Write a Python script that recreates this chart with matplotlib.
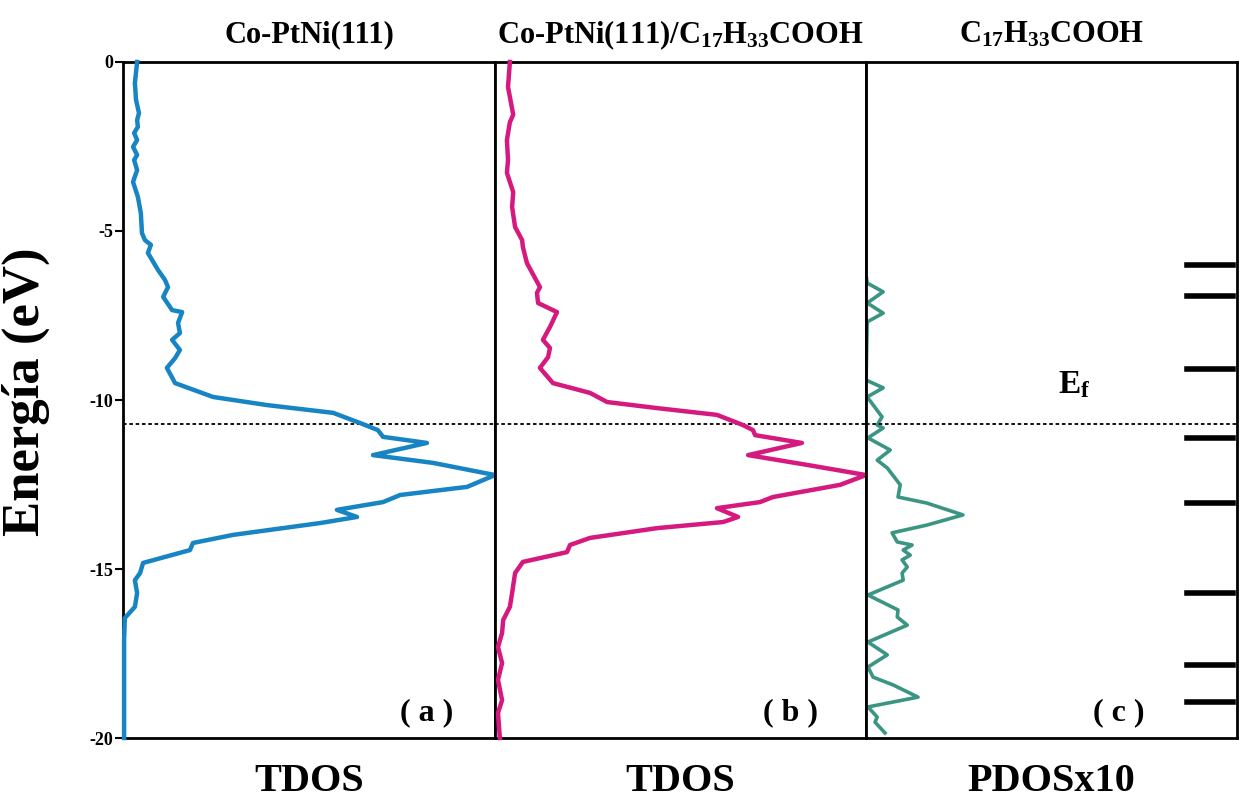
"""
Density of states of Co-PtNi(111), Co-PtNi(111)/C17H33COOH and the
oleic acid molecule, plotted as three side by side panels.
"""

import matplotlib
import matplotlib.pyplot as plt

matplotlib.use("Agg")

plt.rcParams["font.family"] = ["Liberation Serif", "DejaVu Serif"]
plt.rcParams["font.weight"] = "bold"
plt.rcParams["mathtext.fontset"] = "custom"
plt.rcParams["mathtext.rm"] = "Liberation Serif:bold"
plt.rcParams["mathtext.default"] = "rm"

# Fermi level (eV)
e_fermi = -10.71

# (a) TDOS of Co-PtNi(111): energy (eV) and DOS (arbitrary units)
energy_a = [0.0, -0.62, -1.12, -1.51, -1.72, -1.92, -2.10, -2.31, -2.51,
            -2.75, -2.90, -3.20, -3.55, -3.99, -4.47, -5.06, -5.27, -5.41,
            -5.65, -6.15, -6.45, -6.66, -6.95, -7.34, -7.40, -7.72, -8.02,
            -8.22, -8.52, -8.76, -9.05, -9.50, -9.91, -10.15, -10.38,
            -10.68, -10.89, -11.09, -11.27, -11.63, -11.86, -12.22, -12.57,
            -12.81, -13.02, -13.25, -13.46, -13.64, -13.79, -13.99, -14.23,
            -14.44, -14.82, -15.12, -15.33, -15.71, -16.12, -16.45, -17.10,
            -20.0]
tdos_a = [3.8, 3.2, 3.5, 4.3, 3.8, 4.0, 3.0, 3.8, 2.7, 3.8, 3.0, 3.8, 2.7,
          4.0, 4.8, 5.1, 5.9, 7.5, 6.7, 9.4, 11.3, 12.1, 10.8, 13.2, 15.9,
          14.8, 15.3, 13.2, 15.3, 14.0, 11.8, 14.0, 24.2, 38.7, 56.5, 63.7,
          68.5, 69.9, 81.7, 67.2, 83.3, 100.0, 92.5, 74.5, 69.9, 57.5, 62.9,
          53.0, 43.0, 29.6, 18.8, 18.0, 5.4, 4.6, 3.2, 3.8, 3.2, 0.5, 0.3,
          0.3]

# (b) TDOS of Co-PtNi(111)/C17H33COOH
energy_b = [0.0, -0.74, -1.56, -1.78, -2.31, -2.90, -3.28, -3.85, -4.29,
            -4.88, -5.27, -5.47, -5.95, -6.66, -6.83, -7.13, -7.40, -7.84,
            -8.22, -8.46, -8.73, -9.05, -9.50, -9.79, -10.06, -10.24,
            -10.44, -10.74, -10.89, -11.04, -11.27, -11.63, -11.92, -12.22,
            -12.51, -12.87, -13.02, -13.20, -13.46, -13.61, -13.79, -14.08,
            -14.29, -14.50, -14.79, -15.12, -15.71, -16.12, -16.51, -16.89,
            -17.31, -17.78, -18.28, -18.88, -19.26, -20.0]
tdos_b = [4.0, 3.5, 4.9, 4.0, 3.2, 3.5, 3.2, 4.9, 4.6, 5.4, 7.3, 7.5, 8.6,
          12.1, 11.3, 11.6, 16.7, 14.8, 12.9, 14.8, 14.3, 12.1, 15.6, 25.6,
          30.2, 43.7, 59.8, 66.8, 69.5, 70.1, 82.7, 68.2, 84.1, 100.0, 93.0,
          74.9, 71.4, 59.8, 65.5, 61.5, 43.7, 25.6, 20.2, 19.4, 7.5, 5.4,
          4.6, 4.0, 2.2, 1.9, 0.8, 1.9, 0.8, 1.9, 0.8, 1.3]

# (c) PDOS (x10) of C17H33COOH
energy_c = [0.0, -6.30, -6.54, -6.80, -7.13, -7.43, -7.69, -9.41, -9.64,
            -9.91, -10.50, -10.74, -10.83, -11.12, -11.48, -11.78, -12.01,
            -12.51, -12.87, -13.05, -13.40, -13.70, -13.93, -14.20, -14.29,
            -14.44, -14.59, -14.73, -14.94, -15.12, -15.33, -15.77, -16.21,
            -16.42, -16.66, -17.16, -17.54, -17.90, -18.20, -18.43, -18.79,
            -19.08, -19.38, -19.53, -19.85]
pdos_c = [0.0, 0.0, 0.3, 4.6, 0.3, 4.6, 0.3, 0.0, 4.6, 0.3, 4.3, 3.0, 4.6,
          0.5, 6.5, 3.0, 5.7, 9.2, 8.6, 16.4, 26.1, 16.4, 7.0, 8.4, 12.4,
          10.0, 11.9, 9.7, 11.1, 9.7, 10.0, 0.5, 8.6, 8.4, 11.1, 0.5, 5.7,
          0.5, 1.9, 7.3, 14.0, 0.5, 3.0, 2.4, 5.1]

# Molecular orbital levels of C17H33COOH (eV)
levels_c = [-6.01, -6.92, -9.08, -11.12, -13.05, -15.71, -17.84, -18.93]

titles = ["Co-PtNi(111)", "Co-PtNi(111)/C$_{17}$H$_{33}$COOH",
          "C$_{17}$H$_{33}$COOH"]
xlabels = ["TDOS", "TDOS", "PDOSx10"]
panel_tags = ["( a )", "( b )", "( c )"]
tag_x = [0.817, 0.795, 0.68]

fig = plt.figure(figsize=(12.41, 8.05), dpi=100)

# Sets up the three panels next to each other
ax_a = fig.add_axes([0.0991, 0.0832, 0.2998, 0.8398])
ax_b = fig.add_axes([0.3989, 0.0832, 0.2990, 0.8398])
ax_c = fig.add_axes([0.6979, 0.0832, 0.2990, 0.8398])
axes = [ax_a, ax_b, ax_c]

# The TDOS curves sit on top of the frame, the PDOS baseline hides under it
ax_a.plot(tdos_a, energy_a, color="#1784c4", lw=3.2, zorder=5,
          solid_joinstyle="round", clip_on=False)
ax_b.plot(tdos_b, energy_b, color="#d6197f", lw=3.2, zorder=5,
          solid_joinstyle="round", clip_on=False)
ax_c.plot(pdos_c, energy_c, color="#3b9583", lw=2.6, zorder=1,
          solid_joinstyle="round")

# Orbital levels drawn as short bars on the right of panel (c)
for lev in levels_c:
    ax_c.axhline(lev, xmin=0.865, xmax=0.99, color="black", lw=4)

for i, ax in enumerate(axes):
    ax.set_xlim(0, 100)
    ax.set_ylim(-20, 0)
    ax.set_xticks([])
    ax.axhline(e_fermi, color="black", lw=1.3, ls=(0, (2.0, 1.5)), zorder=2)
    for side in ax.spines.values():
        side.set_linewidth(2)
        side.set_zorder(4)
    ax.text(0.5, 1.04, titles[i], transform=ax.transAxes, ha="center",
            va="center", fontsize=22, fontweight="bold")
    ax.text(0.5, -0.065, xlabels[i], transform=ax.transAxes, ha="center",
            va="center", fontsize=29, fontweight="bold")
    ax.text(tag_x[i], 0.037, panel_tags[i], transform=ax.transAxes,
            ha="center", va="center", fontsize=23, fontweight="bold")
    if i > 0:
        ax.set_yticks([])

ax_a.set_yticks([0, -5, -10, -15, -20])
ax_a.set_yticklabels(["0", "-5", "-10", "-15", "-20"])
ax_a.tick_params(axis="y", direction="out", length=6, width=1.5,
                 labelsize=13, pad=1)
ax_a.set_ylabel("Energía (eV)", fontsize=38, fontweight="bold")
ax_a.yaxis.set_label_coords(-0.195, 0.512)

ax_c.text(56, -9.56, "E$_{\\mathrm{f}}$", ha="center", va="center",
          fontsize=24, fontweight="bold")

fig.savefig("out.png", dpi=100)
